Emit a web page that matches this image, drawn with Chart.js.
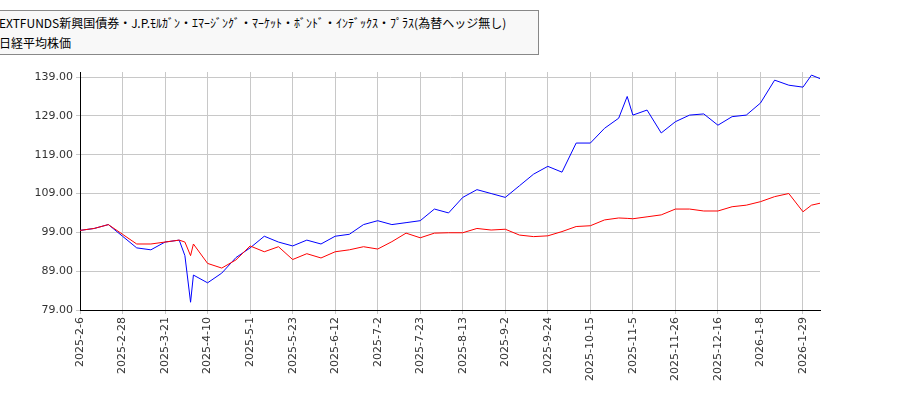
<!DOCTYPE html>
<html>
<head>
<meta charset="utf-8">
<script src="https://cdn.jsdelivr.net/npm/chart.js@4"></script>
<style>
body{margin:0;background:#fff}
#wrap{position:relative;width:900px;height:400px}
#legend{position:absolute;left:-2px;top:10px;width:541px;height:45px;border:1px solid #888;background:#f8f8f8;
 font:12px "Noto Sans CJK JP",sans-serif;line-height:20px;padding:2px 0 0 0;box-sizing:border-box;color:#000;white-space:nowrap}
</style>
</head>
<body>
<div id="wrap">
<canvas id="c" width="900" height="400"></canvas>
<div id="legend"><div>EXTFUNDS新興国債券・J.P.ﾓﾙｶﾞﾝ・ｴﾏｰｼﾞﾝｸﾞ・ﾏｰｹｯﾄ・ﾎﾞﾝﾄﾞ・ｲﾝﾃﾞｯｸｽ・ﾌﾟﾗｽ(為替ヘッジ無し)</div><div>日経平均株価</div></div>
</div>
<script>
// trading-day index of each sample
const idx = [0,5,10,15,20,25,30,35,37,39,40,45,50,55,60,65,70,75,80,85,90,95,100,105,110,115,120,125,130,135,140,145,150,155,160,165,170,175,180,185,190,193,195,200,205,210,215,220,225,230,235,240,245,250,255,258,261]
const fund = [99.5,100,101,98.5,96,96,96.5,97,96.5,93,96,91,89.8,91.9,95.5,94,95.3,92,93.5,92.4,94,94.5,95.3,94.7,96.6,98.8,97.6,98.8,98.9,98.9,100,99.6,99.8,98.3,97.9,98.1,99.2,100.5,100.7,102.2,102.7,102.6,102.5,103,103.5,105,105,104.5,104.5,105.6,106,106.9,108.2,109,104.3,106,106.5]
const nikkei = [99.5,100,101,98,95,94.5,96.5,97,93,81,88,86,88.5,92.5,95,98,96.5,95.5,97,96,98,98.5,101,102,101,101.5,102,105,104,108,110,109,108,111,114,116,114.5,122,122,125.8,128.4,134,129.2,130.5,124.6,127.5,129.2,129.5,126.6,128.8,129.2,132.3,138.2,136.9,136.4,139.5,138.6]
const tickLabels = ['2025-2-6','2025-2-28','2025-3-21','2025-4-10','2025-5-1','2025-5-23','2025-6-12','2025-7-2','2025-7-23','2025-8-13','2025-9-2','2025-9-24','2025-10-15','2025-11-5','2025-11-26','2025-12-16','2026-1-8','2026-1-29']
const yTicks = [79,89,99,109,119,129,139]

const pts = arr => arr.map((v,i) => ({x: idx[i], y: v}))
new Chart(document.getElementById('c'), {
	type: 'line',
	data: {datasets: [
		{data: pts(fund), borderColor: '#ff0000', borderWidth: 1, pointRadius: 0, tension: 0},
		{data: pts(nikkei), borderColor: '#0000ff', borderWidth: 1, pointRadius: 0, tension: 0}
	]},
	options: {
		responsive: false, animation: false,
		layout: {padding: {top: 72, right: 80, left: 0, bottom: 0}},
		plugins: {legend: {display: false}, tooltip: {enabled: false}},
		scales: {
			x: {type: 'linear', min: 0, max: 261,
				afterFit: s => { s.height = 90 },
				afterBuildTicks: s => { s.ticks = tickLabels.map((_, i) => ({value: i*15})) },
				ticks: {minRotation: 90, maxRotation: 90, color: '#333', font: {size: 11, family: 'DejaVu Sans'},
					callback: v => tickLabels[v/15]},
				grid: {color: '#c8c8c8', drawTicks: true, tickLength: 4},
				border: {color: '#000'}},
			y: {min: 79, max: 140.3,
				afterFit: s => { s.width = 80 },
				afterBuildTicks: s => { s.ticks = yTicks.map(v => ({value: v})) },
				ticks: {color: '#333', font: {size: 11, family: 'DejaVu Sans'}, callback: v => v.toFixed(2)},
				grid: {color: '#c8c8c8', tickLength: 4},
				border: {color: '#000'}}
		}
	}
})
</script>
</body>
</html>
